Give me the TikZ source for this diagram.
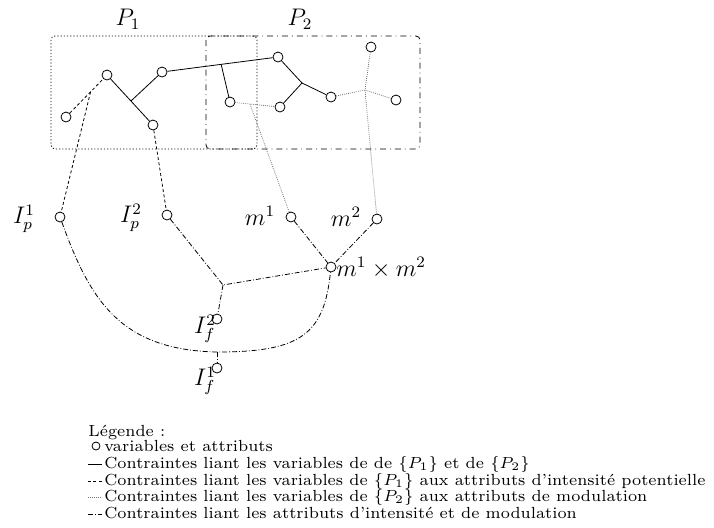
\documentclass[tikz,border=0pt]{standalone}
\usepackage{fontspec}
\usepackage{tikz}
\usetikzlibrary{calc}
\begin{document}
\begin{tikzpicture}[x=0.5pt,y=-0.5pt,
    var/.style={circle,draw,fill=white,inner sep=0pt,minimum size=5pt},
    lienP/.style={},
    lienI/.style={dash pattern=on 1.5pt off 1.2pt},
    lienM/.style={black!55,dash pattern=on 0.4pt off 0.6pt},
    lienIM/.style={dash pattern=on 2.5pt off 1pt on 0.4pt off 1pt},
    lab/.style={font=\large,inner sep=0pt},
    leg/.style={anchor=base west,font=\scriptsize,inner sep=0.8pt,scale=1.15,transform shape}]
  \useasboundingbox (0,0) rectangle (714,527);
  % les deux parties
  \draw[dash pattern=on 0.6pt off 1pt,rounded corners=2pt] (51,36) rectangle (257,149);
  \draw[dash dot,rounded corners=2pt] (206,36) rectangle (420,149);
  \node[lab] (p1) at (128,19) {$P_1$};
  \node[lab] (p2) at (300,19) {$P_2$};
  % variables
  \node[var] (a1) at (66,117) {};
  \node[var] (a2) at (107,75) {};
  \node[var] (a3) at (153,125) {};
  \node[var] (a4) at (162,72) {};
  \node[var] (b1) at (230,102) {};
  \node[var] (b2) at (278,57) {};
  \node[var] (b3) at (280,107) {};
  \node[var] (b4) at (331,97) {};
  \node[var] (b5) at (371,47) {};
  \node[var] (b6) at (396,100) {};
  % attributs
  \node[var] (ip1) at (60,217) {};
  \node[var] (ip2) at (167,215) {};
  \node[var] (m1) at (291,217) {};
  \node[var] (m2) at (377,219) {};
  \node[var] (mm) at (331,267) {};
  \node[var] (if2) at (217,319) {};
  \node[var] (if1) at (217,368) {};
  \node[lab] (lip1) at (24,219) {$I_p^1$};
  \node[lab] (lip2) at (131,218) {$I_p^2$};
  \node[lab] (lm1) at (260,216) {$m^1$};
  \node[lab] (lm2) at (346,217) {$m^2$};
  \node[lab,anchor=west] (lmm) at (336,268) {$m^1\times m^2$};
  \node[lab] (lif2) at (205,329) {$I_f^2$};
  \node[lab] (lif1) at (205,381) {$I_f^1$};
  % jonctions
  \coordinate (j1) at ($(a2)!0.52!(a3)$);
  \coordinate (j2) at ($(a4)!0.51!(b2)$);
  \coordinate (j3) at (302,83);
  \coordinate (j4) at (365,90);
  \coordinate (j5) at ($(b1)!0.4!(b3)$);
  \coordinate (j6) at ($(a1)!0.6!(a2)$);
  \coordinate (j7) at (223,285);
  \coordinate (j8) at (217,352);
  % contraintes P1 -- P2
  \draw[lienP] (a2) -- (a3);
  \draw[lienP] (a4) -- (j1);
  \draw[lienP] (a4) -- (b2);
  \draw[lienP] (j2) -- (b1);
  \draw[lienP] (b2) -- (j3) -- (b3);
  \draw[lienP] (j3) -- (b4);
  % contraintes P1 -- intensite
  \draw[lienI] (a1) -- (a2);
  \draw[lienI] (j6) -- (ip1);
  \draw[lienI] (a3) -- (ip2);
  % contraintes P2 -- modulation
  \draw[lienM] (b1) -- (b3);
  \draw[lienM] (j5) -- (m1);
  \draw[lienM] (b4) -- (j4) -- (b6);
  \draw[lienM] (b5) -- (j4) -- (m2);
  % contraintes intensite -- modulation
  \draw[lienIM] (m1) -- (mm);
  \draw[lienIM] (m2) -- (mm);
  \draw[lienIM] (ip2) -- (j7) -- (mm);
  \draw[lienIM] (j7) -- (if2);
  \draw[lienIM] (ip1) .. controls (90,300) and (120,350) .. (j8)
    .. controls (300,352) and (324,335) .. (mm);
  \draw[lienIM] (j8) -- (if1);
  % legende
  \node[leg,inner sep=0pt] (leg) at (88,436) {Légende :};
  \node[var,minimum size=4pt] (legvar) at (96,446) {};
  \node[leg] (leg0) at (102,451) {variables et attributs};
  \node[leg] (leg1) at (102,468) {Contraintes liant les variables de de $\{P_1\}$ et de $\{P_2\}$};
  \node[leg] (leg2) at (102,485) {Contraintes liant les variables de $\{P_1\}$ aux attributs d'intensité potentielle};
  \node[leg] (leg3) at (102,501) {Contraintes liant les variables de $\{P_2\}$ aux attributs de modulation};
  \node[leg] (leg4) at (102,518) {Contraintes liant les attributs d'intensité et de modulation};
  \draw[lienP] ([xshift=-7pt,yshift=2pt]leg1.base west) -- ([yshift=2pt]leg1.base west);
  \draw[lienI] ([xshift=-7pt,yshift=2pt]leg2.base west) -- ([yshift=2pt]leg2.base west);
  \draw[lienM] ([xshift=-7pt,yshift=2pt]leg3.base west) -- ([yshift=2pt]leg3.base west);
  \draw[lienIM] ([xshift=-7pt,yshift=2pt]leg4.base west) -- ([yshift=2pt]leg4.base west);
\end{tikzpicture}
\end{document}
